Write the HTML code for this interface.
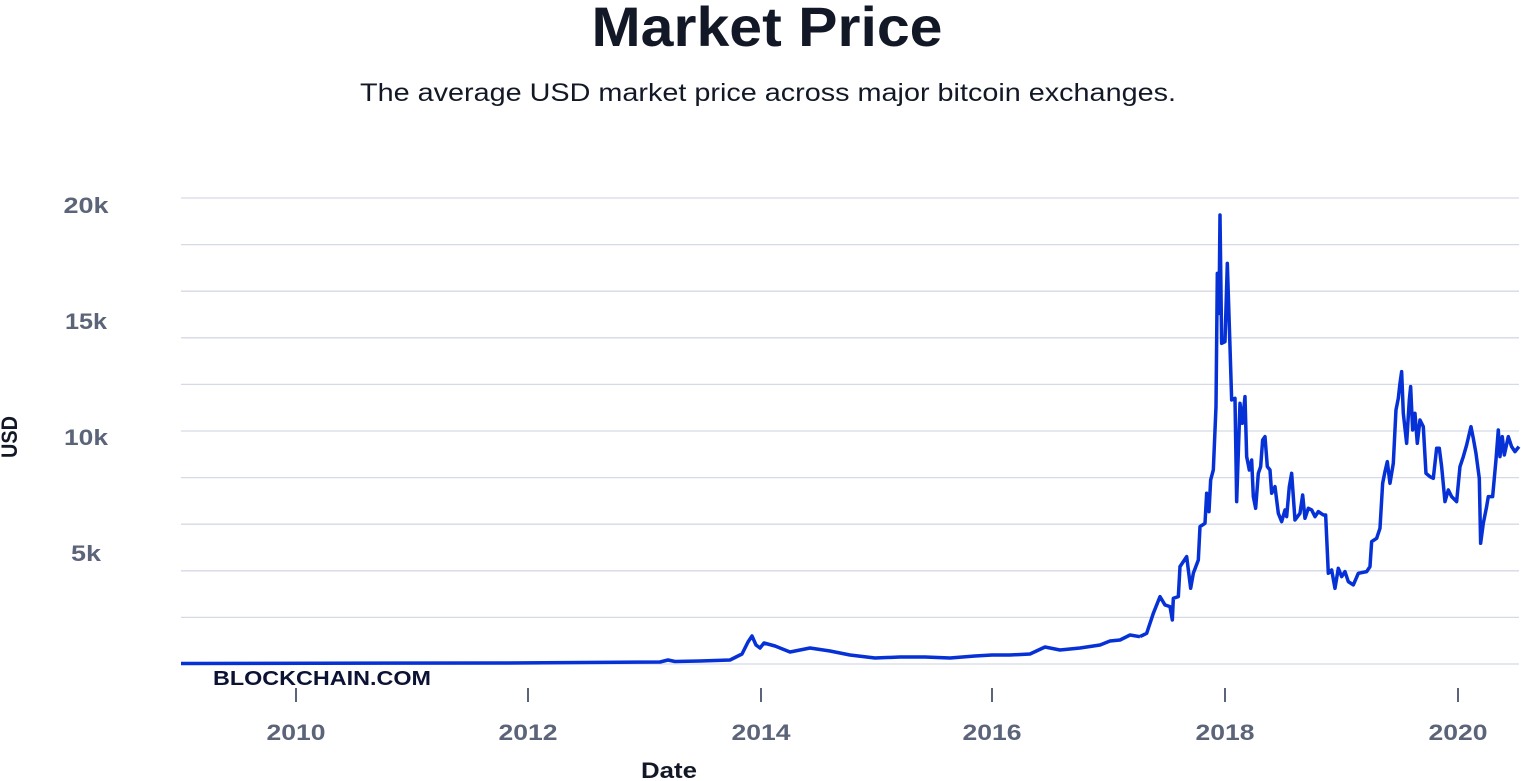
<!DOCTYPE html>
<html><head><meta charset="utf-8"><style>
html,body{margin:0;padding:0;background:#fff;}
svg{display:block;font-family:"Liberation Sans",sans-serif;}
</style></head><body>
<svg width="1521" height="781" viewBox="0 0 1521 781" xmlns="http://www.w3.org/2000/svg">
<text x="767" y="46" text-anchor="middle" font-size="56" font-weight="bold" fill="#121826" textLength="351" lengthAdjust="spacingAndGlyphs">Market Price</text>
<text x="768" y="101" text-anchor="middle" font-size="25" fill="#121826" textLength="816" lengthAdjust="spacingAndGlyphs">The average USD market price across major bitcoin exchanges.</text>
<g stroke="#d6d9e6" stroke-width="1.3">
<line x1="181" x2="1519" y1="198" y2="198"/><line x1="181" x2="1519" y1="244.6" y2="244.6"/>
<line x1="181" x2="1519" y1="291.2" y2="291.2"/><line x1="181" x2="1519" y1="337.8" y2="337.8"/>
<line x1="181" x2="1519" y1="384.4" y2="384.4"/><line x1="181" x2="1519" y1="431" y2="431"/>
<line x1="181" x2="1519" y1="477.6" y2="477.6"/><line x1="181" x2="1519" y1="524.2" y2="524.2"/>
<line x1="181" x2="1519" y1="570.8" y2="570.8"/><line x1="181" x2="1519" y1="617.4" y2="617.4"/>
<line x1="181" x2="1519" y1="664" y2="664"/>
</g>
<g font-size="22" font-weight="bold" fill="#5b6479" text-anchor="middle" lengthAdjust="spacingAndGlyphs">
<text x="86" y="213" textLength="45" lengthAdjust="spacingAndGlyphs">20k</text>
<text x="86" y="329" textLength="42" lengthAdjust="spacingAndGlyphs">15k</text>
<text x="86" y="445" textLength="44" lengthAdjust="spacingAndGlyphs">10k</text>
<text x="86" y="561" textLength="30" lengthAdjust="spacingAndGlyphs">5k</text>
<text x="296" y="740" textLength="59" lengthAdjust="spacingAndGlyphs">2010</text>
<text x="528" y="740" textLength="59" lengthAdjust="spacingAndGlyphs">2012</text>
<text x="761" y="740" textLength="59" lengthAdjust="spacingAndGlyphs">2014</text>
<text x="992" y="740" textLength="59" lengthAdjust="spacingAndGlyphs">2016</text>
<text x="1225" y="740" textLength="59" lengthAdjust="spacingAndGlyphs">2018</text>
<text x="1458" y="740" textLength="59" lengthAdjust="spacingAndGlyphs">2020</text>
</g>
<g stroke="#5b6479" stroke-width="2">
<line x1="296" x2="296" y1="688" y2="702"/><line x1="528" x2="528" y1="688" y2="702"/>
<line x1="761" x2="761" y1="688" y2="702"/><line x1="992" x2="992" y1="688" y2="702"/>
<line x1="1225" x2="1225" y1="688" y2="702"/><line x1="1458" x2="1458" y1="688" y2="702"/>
</g>
<text x="669" y="778" text-anchor="middle" font-size="22" font-weight="bold" fill="#121826" textLength="56" lengthAdjust="spacingAndGlyphs">Date</text>
<text transform="translate(17,437) rotate(-90)" text-anchor="middle" font-size="22" font-weight="bold" fill="#121826" textLength="42" lengthAdjust="spacingAndGlyphs">USD</text>
<text x="213" y="685" font-size="20" font-weight="900" fill="#0b1233" textLength="218" lengthAdjust="spacingAndGlyphs">BLOCKCHAIN.COM</text>
<g fill="none" stroke="#0531d6" stroke-width="3.5" stroke-linejoin="round">
<polyline points="181,663.5 500,663 660,662 668,660 675,661.5 700,661 730,660 742,654 748,642 752,636 756,645 760,648 764,643 775,646 790,652 800,650 810,648 830,651 850,655 875,658 900,657 925,657 950,658 975,656 992,655 1010,655 1030,654 1045,647 1060,650 1080,648 1100,645 1110,641 1120,640 1130,635 1140,636.7"/>
<polyline transform="translate(1140,190) scale(0.3333)" stroke-width="10.5" points="0,1340 20,1330 40,1270 60,1220 75,1245 90,1250 97,1290 100,1225 115,1220 120,1130 140,1100 152,1195 160,1150 175,1110 180,1010 195,1000 200,910 207,965 212,870 220,840 228,650 232,250 237,370 240,75 245,460 255,455 262,220 270,470 275,630 285,625 290,935 300,640 307,700 315,620 320,800 328,840 335,810 340,920 347,955 355,850 362,830 368,750 375,740 382,830 390,840 395,910 405,890 415,970 425,995 435,960 440,980 448,890 455,850 465,990 480,970 488,915 495,985 505,955 515,960 525,980 535,965 550,975 557,975 565,1150 575,1140 585,1195 595,1135 605,1160 615,1145 625,1175 640,1185 655,1150 680,1145 690,1130 695,1055 710,1045 720,1015 728,880 735,845 742,815 750,880 760,820 768,660 775,625 780,580 785,545 790,670 800,760 808,630 812,590 818,720 825,670 832,760 840,690 850,710 858,850 870,860 880,865 890,775 898,775 905,830 915,935 925,900 935,920 950,935 960,830 970,800 980,765 993,710 1000,745 1008,790 1018,865 1022,1060 1030,1000 1040,950 1045,920 1058,920 1068,810 1075,720 1080,800 1087,740 1093,795 1105,740 1115,770 1125,785 1137,770"/>
</g>
</svg>
</body></html>
